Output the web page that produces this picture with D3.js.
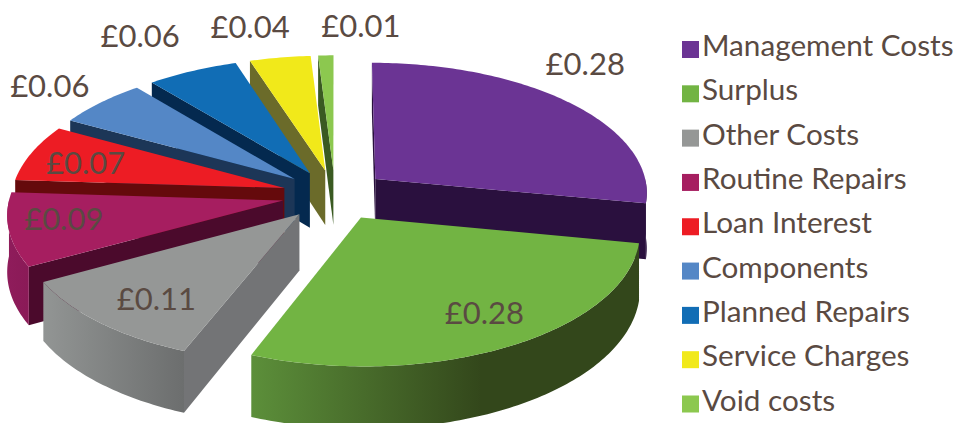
<!DOCTYPE html>
<html>
<head>
<meta charset="utf-8">
<script src="https://cdn.jsdelivr.net/npm/d3@7"></script>
<style>
  html, body { margin: 0; padding: 0; background: #fff; }
  text { font-family: Lato, sans-serif; fill: #5a4a42; }
</style>
</head>
<body>
<div id="my_dataviz"></div>
<script>
// chart data
var categories = ["Management Costs", "Surplus", "Other Costs", "Routine Repairs", "Loan Interest",
  "Components", "Planned Repairs", "Service Charges", "Void costs"];
var values = [0.28, 0.28, 0.11, 0.09, 0.07, 0.06, 0.06, 0.04, 0.01];
var valueLabels = ["£0.28", "£0.28", "£0.11", "£0.09", "£0.07", "£0.06", "£0.06", "£0.04", "£0.01"];

// slice colours: top face, cut face, outer rim (left and right end of the gradient)
var topColors = ["#6b3494", "#72b443", "#959796", "#a61e60", "#ed1c24", "#5487c6", "#116db5", "#f1e91a", "#8cc84f"];
var wallColors = ["#2a103e", "#34481b", "#737476", "#4b0a2c", "#650a0c", "#1c3657", "#04294f", "#6b6b2a", "#3a5a22"];
var rimLeft = ["#2a103e", "#5c8f3a", "#929594", "#8f1c5b", "#650a0c", "#1c3657", "#04294f", "#6b6b2a", "#3a5a22"];
var rimRight = ["#2a103e", "#33471b", "#6c6e6e", "#8a1a57", "#650a0c", "#1c3657", "#04294f", "#6b6b2a", "#3a5a22"];

// where each value label sits relative to the middle of its rim
var labelNudge = [[16, -40], [-25, -34], [57, -24], [55, -12], [54, 9], [-51, -18], [-52, -36], [-30, -32], [35, -30]];

var width = 963, height = 423;
var cx = 335, cy = 195;        // pie centre on screen
var radius = 273, explode = 53, depth = 55.5;
var tilt = 0.477, persp = 0.095;

var svg = d3.select("#my_dataviz")
  .append("svg")
  .attr("width", width)
  .attr("height", height)
  .style("display", "block");

var defs = svg.append("defs");

var pie = d3.pie().sort(null).value(function (d) { return d; })
  .startAngle(0).endAngle(2 * Math.PI);
var slices = pie(values);

var color = d3.scaleOrdinal().domain(categories).range(topColors);
var wallColor = d3.scaleOrdinal().domain(categories).range(wallColors);

// ground plane -> screen, with a bit of perspective. z = 1 is the bottom of the pie
function project(u, v, z) {
  var s = 1 / (1 + persp * v / radius);
  return [cx + u * s, cy - v * tilt * s + z * depth * s];
}
function offset(d) {
  var mid = (d.startAngle + d.endAngle) / 2;
  return [explode * Math.sin(mid), explode * Math.cos(mid)];
}
function rimPoint(d, a, z) {
  var o = offset(d);
  return project(o[0] + radius * Math.sin(a), o[1] + radius * Math.cos(a), z);
}
function apexPoint(d, z) {
  var o = offset(d);
  return project(o[0], o[1], z);
}
function sample(a0, a1) {
  var n = Math.max(2, Math.ceil((a1 - a0) * 60));
  return d3.range(n + 1).map(function (i) { return a0 + (a1 - a0) * i / n; });
}

var line = d3.line();
var chart = svg.append("g");

// far slices first, the green one last so it sits on the purple cut
var order = [8, 7, 6, 5, 4, 3, 2, 0, 1];

order.forEach(function (i) {
  var d = slices[i], name = categories[i];
  var g = chart.append("g");

  // cut faces that look to the viewer
  [[d.startAngle, Math.sin(d.startAngle) < 1e-6], [d.endAngle, Math.sin(d.endAngle) > 1e-6]].forEach(function (w) {
    if (!w[1]) return;
    g.append("path")
      .attr("d", line([apexPoint(d, 0), rimPoint(d, w[0], 0), rimPoint(d, w[0], 1), apexPoint(d, 1)]) + "Z")
      .attr("fill", wallColor(name));
  });

  // outer rim, front half only
  var a0 = Math.max(d.startAngle, Math.PI / 2), a1 = Math.min(d.endAngle, 3 * Math.PI / 2);
  if (a1 > a0) {
    var top = sample(a0, a1).map(function (a) { return rimPoint(d, a, 0); });
    var bottom = sample(a0, a1).map(function (a) { return rimPoint(d, a, 1); }).reverse();
    var xs = d3.extent(top, function (p) { return p[0]; });
    var grad = defs.append("linearGradient")
      .attr("id", "rim" + i)
      .attr("gradientUnits", "userSpaceOnUse")
      .attr("x1", xs[0]).attr("x2", i == 1 ? xs[0] + 230 : xs[1])
      .attr("y1", 0).attr("y2", 0);
    grad.append("stop").attr("offset", 0).attr("stop-color", rimLeft[i]);
    grad.append("stop").attr("offset", 1).attr("stop-color", rimRight[i]);
    g.append("path")
      .attr("d", line(top.concat(bottom)) + "Z")
      .attr("fill", "url(#rim" + i + ")");
  }

  // top face
  var rim = sample(d.startAngle, d.endAngle).map(function (a) { return rimPoint(d, a, 0); });
  g.append("path")
    .attr("d", line([apexPoint(d, 0)].concat(rim)) + "Z")
    .attr("fill", color(name));
});

// value labels
svg.append("g").selectAll("text")
  .data(slices)
  .enter()
  .append("text")
  .attr("text-anchor", "middle")
  .attr("font-size", 31)
  .attr("transform", function (d, i) {
    var p = rimPoint(d, (d.startAngle + d.endAngle) / 2, 0);
    return "translate(" + (p[0] + labelNudge[i][0]) + "," + (p[1] + labelNudge[i][1] + 12) + ")";
  })
  .text(function (d, i) { return valueLabels[i]; });

// legend
var legendY = d3.scalePoint().domain(categories).range([41, 395.5]);
var legend = svg.append("g").selectAll("g")
  .data(categories)
  .enter()
  .append("g")
  .attr("transform", function (d) { return "translate(682," + legendY(d) + ")"; });

legend.append("rect")
  .attr("width", 17)
  .attr("height", 17)
  .attr("fill", function (d) { return color(d); });

legend.append("text")
  .attr("x", 20)
  .attr("y", 15)
  .attr("font-size", 29.7)
  .text(function (d) { return d; });
</script>
</body>
</html>
